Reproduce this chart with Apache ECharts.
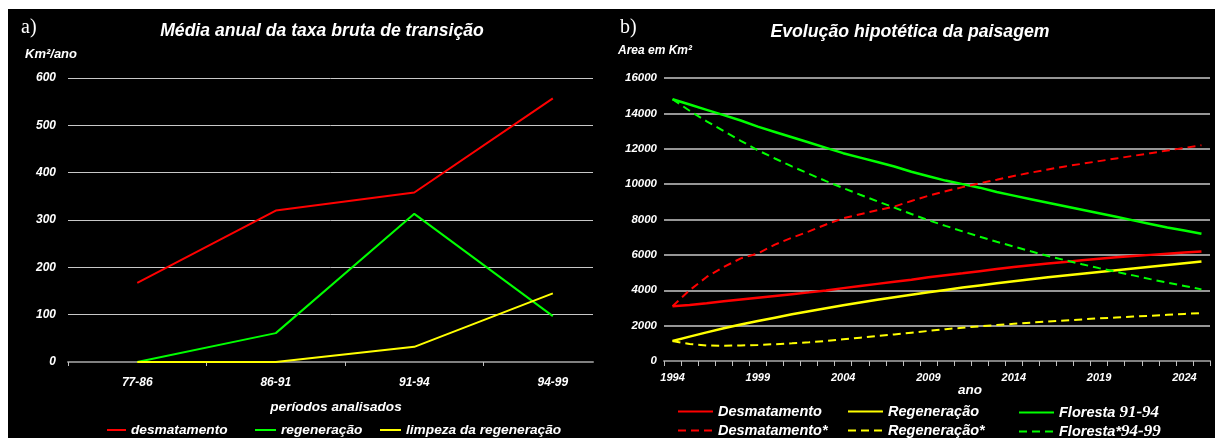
<!DOCTYPE html>
<html>
<head>
<meta charset="utf-8">
<script src="https://cdn.jsdelivr.net/npm/echarts@6/dist/echarts.min.js"></script>
<style>
html,body{margin:0;padding:0;background:#fff;}
#c{position:absolute;left:8px;top:9px;width:1207px;height:429px;background:#000;}
</style>
</head>
<body>
<div id="c"></div>
<script>
// ---- chart a) data ----
const periodos = ['77-86','86-91','91-94','94-99'];
const desmatamentoA = [167, 320, 358, 557];
const regeneracaoA = [0, 61, 313, 97];
const limpezaA = [0, 0, 32, 145];
const yTicksA = [0, 100, 200, 300, 400, 500, 600];

// ---- chart b) data ----
const anos = [1994,1995,1996,1997,1998,1999,2000,2001,2002,2003,2004,2005,2006,2007,2008,2009,
              2010,2011,2012,2013,2014,2015,2016,2017,2018,2019,2020,2021,2022,2023,2024,2025];
const desmatamentoB = [3090,3170,3270,3380,3480,3580,3680,3780,3880,3990,4120,4240,4360,4480,4600,4730,
                       4850,4960,5080,5200,5320,5420,5510,5600,5690,5780,5860,5930,6000,6070,6130,6190];
const regeneracaoB = [1130,1380,1620,1850,2060,2260,2450,2640,2810,2980,3150,3310,3460,3610,3750,3890,
                      4020,4150,4270,4390,4510,4620,4730,4830,4930,5030,5130,5230,5330,5430,5530,5630];
const floresta9194 = [14800,14500,14200,13900,13600,13250,12950,12650,12350,12050,11750,11500,11250,11000,10700,10450,
                      10200,10000,9800,9550,9350,9150,8950,8750,8550,8350,8150,7950,7750,7550,7380,7200];
const desmatamentoStar = [3100,4000,4750,5320,5800,6080,6580,6970,7330,7720,8070,8300,8520,8730,9050,9340,
                          9600,9830,10050,10250,10460,10650,10830,11000,11150,11300,11450,11600,11750,11900,12050,12200];
const regeneracaoStar = [1130,960,880,860,880,910,950,1000,1060,1130,1230,1320,1410,1500,1600,1700,
                         1800,1880,1960,2030,2100,2170,2230,2290,2350,2410,2460,2510,2560,2610,2660,2710];
const floresta9499 = [14800,14150,13550,13000,12450,11910,11450,11000,10580,10170,9780,9400,9030,8670,8310,7960,
                      7640,7330,7030,6740,6470,6200,5940,5700,5470,5250,5040,4840,4630,4430,4240,4050];

const RED = '#ff0000', GREEN = '#00ff00', YELLOW = '#ffff00';
const FONT = '"Liberation Sans", Arial, sans-serif';
const SERIF = '"Liberation Serif", "Times New Roman", serif';

const chart = echarts.init(document.getElementById('c'), null, {renderer: 'canvas'});

const labelStyle = {color: '#fff', fontFamily: FONT, fontStyle: 'italic', fontWeight: 'bold', fontSize: 12};

function lineSeries(name, data, color, dashed, xi, width) {
  return {
    name: name, type: 'line', data: data, xAxisIndex: xi, yAxisIndex: xi,
    symbol: 'none', smooth: false, silent: true, animation: false,
    lineStyle: {color: color, width: width, type: dashed ? [8, 5] : 'solid'},
    itemStyle: {color: color}
  };
}

function legendItem(name, left, top, w) {
  const fs = w > 25 ? 14.5 : 13.7;
  return {
    data: [name], left: left, top: top, padding: 0, orient: 'horizontal',
    itemWidth: w, itemHeight: 14, itemGap: 0, selectedMode: false,
    itemStyle: {opacity: 0},
    textStyle: {color: '#fff', fontFamily: FONT, fontStyle: 'italic', fontWeight: 'bold', fontSize: fs,
      rich: {
        a: {color: '#fff', fontFamily: FONT, fontStyle: 'italic', fontWeight: 'bold', fontSize: 14.5},
        b: {color: '#fff', fontFamily: SERIF, fontWeight: 'bold', fontSize: 17}
      }
    },
    formatter: function (n) {
      if (n === 'Floresta 91-94') return '{a|Floresta }{b|91-94}';
      if (n === 'Floresta*94-99') return '{a|Floresta*}{b|94-99}';
      return n;
    }
  };
}

const option = {
  backgroundColor: '#000',
  animation: false,
  grid: [
    {left: 60, top: 69, width: 525, height: 284, containLabel: false},
    {left: 656, top: 69, width: 546, height: 283, containLabel: false}
  ],
  xAxis: [
    {
      type: 'value', gridIndex: 0, min: 0, max: 3.79,
      axisLine: {show: true, lineStyle: {color: '#808080', width: 2}},
      axisTick: {show: true, customValues: [0, 1, 2, 3], length: 4, lineStyle: {color: '#c0c0c0', width: 1}},
      axisLabel: Object.assign({}, labelStyle, {
        customValues: [0.5, 1.5, 2.5, 3.5], margin: 15,
        formatter: function (v) { return periodos[Math.floor(v)]; }
      }),
      splitLine: {show: false}
    },
    {
      type: 'category', gridIndex: 1, data: anos, boundaryGap: true,
      axisLine: {show: true, lineStyle: {color: '#808080', width: 2}},
      axisTick: {show: true, interval: 0, length: 5, lineStyle: {color: '#c0c0c0', width: 1}},
      axisLabel: Object.assign({}, labelStyle, {interval: 4, margin: 11, fontSize: 11}),
      splitLine: {show: false}
    }
  ],
  yAxis: [
    {
      type: 'value', gridIndex: 0, min: 0, max: 600, interval: 100,
      axisLine: {show: false}, axisTick: {show: false},
      axisLabel: Object.assign({}, labelStyle, {margin: 12,
        formatter: function (v) { return yTicksA.indexOf(v) >= 0 ? String(v) : ''; }}),
      splitLine: {show: true, lineStyle: {color: '#c8c8c8', width: 1}}
    },
    {
      type: 'value', gridIndex: 1, min: 0, max: 16000, interval: 2000,
      axisLine: {show: false}, axisTick: {show: false},
      axisLabel: Object.assign({}, labelStyle, {margin: 7, fontSize: 11.5,
        formatter: function (v) { return String(v); }}),
      splitLine: {show: true, lineStyle: {color: '#c8c8c8', width: 1.5}}
    }
  ],
  legend: [
    legendItem('desmatamento', 98, 414, 19),
    legendItem('regeneração', 246, 414, 21),
    legendItem('limpeza da regeneração', 371, 414, 21),
    legendItem('Desmatamento', 669, 395, 35),
    legendItem('Regeneração', 839, 395, 35),
    legendItem('Floresta 91-94', 1010, 395, 35),
    legendItem('Desmatamento*', 669, 414, 35),
    legendItem('Regeneração*', 839, 414, 35),
    legendItem('Floresta*94-99', 1010, 414, 35)
  ],
  series: [
    lineSeries('desmatamento', desmatamentoA.map(function (v, i) { return [i + 0.5, v]; }), RED, false, 0, 2),
    lineSeries('regeneração', regeneracaoA.map(function (v, i) { return [i + 0.5, v]; }), GREEN, false, 0, 2),
    lineSeries('limpeza da regeneração', limpezaA.map(function (v, i) { return [i + 0.5, v]; }), YELLOW, false, 0, 2),
    lineSeries('Desmatamento', desmatamentoB, RED, false, 1, 2.5),
    lineSeries('Regeneração', regeneracaoB, YELLOW, false, 1, 2.5),
    lineSeries('Floresta 91-94', floresta9194, GREEN, false, 1, 2.5),
    lineSeries('Desmatamento*', desmatamentoStar, RED, true, 1, 2),
    lineSeries('Regeneração*', regeneracaoStar, YELLOW, true, 1, 2),
    lineSeries('Floresta*94-99', floresta9499, GREEN, true, 1, 2)
  ],
  graphic: [
    {type: 'text', left: 13, top: 9, style: {text: 'a)', fill: '#fff', font: '20px ' + SERIF}},
    {type: 'text', x: 314, y: 22, style: {text: 'Média anual da taxa bruta de transição', fill: '#fff',
      font: 'italic bold 17.6px ' + FONT, textAlign: 'center', textVerticalAlign: 'middle'}},
    {type: 'text', x: 17, y: 45, style: {text: 'Km²/ano', fill: '#fff',
      font: 'italic bold 13px ' + FONT, textAlign: 'left', textVerticalAlign: 'middle'}},
    {type: 'text', left: 612, top: 9, style: {text: 'b)', fill: '#fff', font: '20px ' + SERIF}},
    {type: 'text', x: 902, y: 23, style: {text: 'Evolução hipotética da paisagem', fill: '#fff',
      font: 'italic bold 17.7px ' + FONT, textAlign: 'center', textVerticalAlign: 'middle'}},
    {type: 'text', x: 610, y: 42, style: {text: 'Area em Km²', fill: '#fff',
      font: 'italic bold 12px ' + FONT, textAlign: 'left', textVerticalAlign: 'middle'}},
    {type: 'text', x: 328, y: 398, style: {text: 'períodos analisados', fill: '#fff',
      font: 'italic bold 13.6px ' + FONT, textAlign: 'center', textVerticalAlign: 'middle'}},
    {type: 'text', x: 962, y: 381, style: {text: 'ano', fill: '#fff',
      font: 'italic bold 13.5px ' + FONT, textAlign: 'center', textVerticalAlign: 'middle'}}
  ]
};

chart.setOption(option);
</script>
</body>
</html>
